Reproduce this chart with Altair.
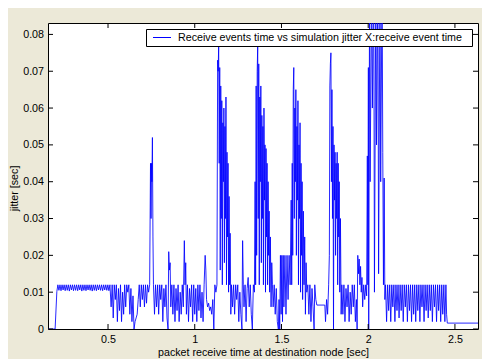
import altair as alt
import pandas as pd

# ---- data (time in ms, jitter in ms) ----
seg_start = [(154, 0), (195, 0), (205, 10.2), (211, 12), (217, 10.5), (223, 12), (229, 10.4), (235, 12),
             (241, 10.6), (247, 12), (253, 10.4), (259, 12), (265, 10.5), (271, 12), (277, 10.3), (283, 12),
             (289, 10.6), (295, 12), (301, 10.4), (307, 12), (313, 10.5), (319, 12), (325, 10.4), (331, 12),
             (337, 10.6), (343, 12), (349, 10.3), (355, 12), (361, 10.5), (367, 12), (373, 10.4), (379, 12),
             (385, 10.6), (391, 12), (397, 10.5), (403, 12), (409, 10.3), (415, 12), (421, 10.5), (427, 12),
             (433, 10.4), (439, 12), (445, 10.6), (451, 12), (457, 10.5), (463, 12), (469, 10.4), (475, 12),
             (481, 10.6), (487, 12), (493, 10.5), (499, 12), (505, 10.4), (511, 12)]
seg_a = [(518, 6), (524, 12), (530, 3), (536, 12), (542, 8), (548, 12), (554, 2), (560, 11), (566, 5), (572, 12),
         (578, 2), (584, 10), (590, 4), (596, 12), (602, 6), (608, 12), (614, 10), (620, 12), (626, 4), (632, 11),
         (638, 2), (644, 9), (650, 0), (656, 2), (662, 3), (668, 4), (674, 8), (680, 12), (686, 6), (692, 12),
         (698, 8), (704, 12), (710, 6), (716, 12), (722, 7), (728, 12), (734, 10), (740, 12), (745, 45), (748, 30),
         (751, 45), (753, 40), (756, 52), (759, 25), (762, 12)]
seg_b = [(768, 4), (774, 12), (780, 6), (786, 12), (792, 4), (798, 12), (804, 8), (810, 12), (816, 2), (822, 11),
         (828, 6), (834, 12), (840, 3), (846, 0), (850, 21), (854, 16), (858, 18), (862, 6), (868, 12), (874, 4),
         (880, 12), (886, 2), (892, 11), (898, 5), (904, 12), (910, 2), (916, 10), (922, 4), (928, 12), (934, 6),
         (940, 24), (944, 12), (948, 18), (952, 4), (958, 12), (964, 2), (970, 11), (976, 6), (982, 12), (988, 2),
         (994, 12), (1000, 4), (1006, 11), (1012, 2), (1018, 12), (1024, 5), (1030, 12), (1036, 3), (1042, 10),
         (1048, 2), (1054, 12), (1060, 20), (1064, 16), (1068, 8), (1074, 6), (1080, 7), (1086, 5), (1092, 6),
         (1098, 4), (1104, 8), (1110, 0), (1116, 12), (1122, 10)]
burst_1 = [(1128, 12), (1132, 73), (1135, 70), (1138, 77), (1141, 45), (1144, 71), (1147, 16), (1150, 66),
           (1153, 30), (1156, 62), (1159, 12), (1162, 56), (1165, 40), (1168, 60), (1171, 18), (1174, 55),
           (1177, 30), (1180, 63), (1183, 12), (1186, 48), (1189, 25), (1192, 45), (1195, 10), (1198, 36),
           (1201, 12), (1204, 26), (1208, 4), (1212, 12)]
seg_c = [(1218, 6), (1224, 12), (1230, 4), (1236, 12), (1242, 8), (1248, 12), (1254, 2), (1260, 10), (1266, 4),
         (1272, 0), (1276, 24), (1280, 12), (1284, 6), (1290, 12), (1296, 2), (1302, 11), (1308, 14), (1314, 6),
         (1320, 12), (1326, 4), (1332, 0), (1338, 12), (1344, 10)]
burst_2 = [(1348, 40), (1351, 12), (1354, 66), (1357, 20), (1360, 70), (1363, 77), (1366, 30), (1369, 72),
           (1372, 12), (1375, 63), (1378, 40), (1381, 66), (1384, 18), (1387, 58), (1390, 30), (1393, 55),
           (1396, 12), (1399, 60), (1402, 35), (1405, 50), (1408, 10), (1411, 49), (1414, 25), (1417, 45),
           (1420, 12), (1423, 40), (1426, 20), (1429, 32), (1432, 10), (1436, 25), (1440, 6), (1444, 18), (1448, 12)]
seg_d = [(1452, 6), (1458, 12), (1464, 4), (1470, 11), (1476, 2), (1482, 0), (1486, 8), (1490, 0), (1494, 20),
         (1498, 4), (1502, 20), (1506, 2), (1510, 20), (1514, 6), (1520, 20), (1526, 4), (1532, 20), (1538, 8),
         (1544, 20), (1550, 12)]
burst_3 = [(1556, 35), (1559, 12), (1562, 45), (1565, 20), (1568, 65), (1571, 71), (1574, 30), (1577, 60),
           (1580, 40), (1583, 65), (1586, 20), (1589, 55), (1592, 35), (1595, 62), (1598, 12), (1601, 50),
           (1604, 30), (1607, 56), (1610, 10), (1613, 45), (1616, 20), (1619, 40), (1622, 8), (1626, 32),
           (1630, 12), (1634, 25), (1638, 4), (1642, 18), (1646, 10)]
seg_e = [(1652, 12), (1658, 4), (1664, 12), (1670, 2), (1676, 11), (1682, 6), (1688, 0), (1692, 12), (1698, 8),
         (1704, 6.5), (1750, 6.5), (1754, 2), (1760, 8), (1766, 4), (1772, 12)]
burst_4 = [(1776, 20), (1779, 66), (1782, 72), (1785, 75), (1788, 40), (1791, 65), (1794, 30), (1797, 55),
           (1800, 0), (1803, 50), (1806, 35), (1809, 48), (1812, 20), (1815, 45), (1818, 30), (1821, 48),
           (1824, 12), (1827, 45), (1830, 25), (1833, 40), (1836, 10), (1840, 30), (1844, 4), (1848, 12)]
seg_f = [(1854, 4), (1860, 12), (1866, 2), (1872, 11), (1878, 6), (1884, 12), (1890, 2), (1896, 10), (1902, 4),
         (1908, 12), (1914, 6), (1920, 12), (1926, 2), (1932, 8), (1936, 0), (1940, 20), (1944, 15), (1948, 19),
         (1952, 12), (1956, 17), (1960, 10), (1964, 14), (1968, 6), (1974, 12), (1980, 8), (1986, 12), (1991, 9)]
burst_5 = [(1995, 47), (1998, 12), (2001, 71), (2003, 0), (2008, 95), (2011, 40), (2020, 95), (2024, 60),
           (2032, 95), (2036, 10), (2044, 95), (2048, 50), (2056, 95), (2060, 15), (2068, 95), (2072, 40),
           (2080, 95), (2084, 48), (2088, 12), (2092, 41), (2096, 8), (2100, 12)]
seg_end = [(2106, 2), (2112, 12), (2118, 5), (2124, 12), (2130, 2), (2136, 12), (2142, 6), (2148, 12), (2154, 2),
           (2160, 12), (2166, 5), (2172, 12), (2178, 3), (2184, 12), (2190, 5), (2196, 12), (2202, 2), (2208, 12),
           (2214, 6), (2220, 12), (2226, 2), (2232, 12), (2238, 5), (2244, 12), (2250, 2), (2256, 12), (2262, 4),
           (2268, 12), (2274, 2), (2280, 12), (2286, 5), (2292, 12), (2298, 2), (2304, 12), (2310, 6), (2316, 12),
           (2322, 2), (2328, 12), (2334, 5), (2340, 12), (2346, 3), (2352, 12), (2358, 5), (2364, 12), (2370, 2),
           (2376, 12), (2382, 6), (2388, 12), (2394, 2), (2400, 12), (2406, 5), (2412, 12), (2418, 2), (2424, 12),
           (2430, 4), (2436, 12), (2442, 2), (2448, 12), (2452, 4), (2456, 1.6), (2633, 1.6)]

x_ticks = [0.5, 1, 1.5, 2, 2.5]
y_ticks = [0, 0.01, 0.02, 0.03, 0.04, 0.05, 0.06, 0.07, 0.08]
legend_label = "Receive events time vs simulation jitter X:receive event time"

segments = [seg_start, seg_a, seg_b, burst_1, seg_c, burst_2, seg_d, burst_3, seg_e, burst_4, seg_f, burst_5, seg_end]
rows = [p for s in segments for p in s]
df = pd.DataFrame(rows, columns=["t_ms", "j_ms"])
df["t"] = df["t_ms"] / 1000.0
df["j"] = df["j_ms"] / 1000.0

W, H = 430, 306
FONT = "Liberation Sans"
FS = 10.7
BLUE = "#0000ff"

xscale = alt.Scale(domain=[0.154, 2.633], nice=False, zero=False)
yscale = alt.Scale(domain=[0, 0.0831], nice=False, zero=False)
xaxis = alt.Axis(values=x_ticks, format="~g", title="packet receive time at destination node [sec]",
                 labelPadding=5, titleY=18.5, titleBaseline="top")
yaxis = alt.Axis(values=y_ticks, format="~g", title="jitter [sec]", labelPadding=4.5,
                 titleX=-34, titleY=165, titleBaseline="middle", titleAlign="center")

line = alt.Chart(df).mark_line(color=BLUE, strokeWidth=0.85, clip=True).encode(
    x=alt.X("t:Q", scale=xscale, axis=xaxis),
    y=alt.Y("j:Q", scale=yscale, axis=yaxis),
)

xt = pd.DataFrame({"t": x_ticks})
yt = pd.DataFrame({"j": y_ticks})
x_bot = alt.Chart(xt).mark_rule(color="black", strokeWidth=1).encode(
    x=alt.X("t:Q", scale=xscale, axis=xaxis), y=alt.value(H - 5), y2=alt.value(H))
x_top = alt.Chart(xt).mark_rule(color="black", strokeWidth=1).encode(
    x=alt.X("t:Q", scale=xscale, axis=xaxis), y=alt.value(0), y2=alt.value(5))
y_left = alt.Chart(yt).mark_rule(color="black", strokeWidth=1).encode(
    y=alt.Y("j:Q", scale=yscale, axis=yaxis), x=alt.value(0), x2=alt.value(5))
y_right = alt.Chart(yt).mark_rule(color="black", strokeWidth=1).encode(
    y=alt.Y("j:Q", scale=yscale, axis=yaxis), x=alt.value(W - 5), x2=alt.value(W))

one = pd.DataFrame({"k": [0]})
leg_box = alt.Chart(one).mark_rect(fill="white", stroke="black", strokeWidth=1).encode(
    x=alt.value(98.5), x2=alt.value(424.5), y=alt.value(6.5), y2=alt.value(23.5))
leg_line = alt.Chart(one).mark_rule(color=BLUE, strokeWidth=1).encode(
    x=alt.value(105), x2=alt.value(123), y=alt.value(14.5))
leg_text = alt.Chart(one).mark_text(align="left", baseline="middle", font=FONT, fontSize=FS, color="black").encode(
    x=alt.value(130), y=alt.value(15), text=alt.value(legend_label))

chart = alt.layer(line, x_bot, x_top, y_left, y_right, leg_box, leg_line, leg_text).properties(
    width=W, height=H,
    padding={"left": 40, "top": 15, "right": 4, "bottom": 30},
    autosize=alt.AutoSizeParams(type="none"),
    background="#ece9d8",
).configure_view(stroke="black", strokeWidth=1, fill="white").configure_axis(
    grid=False, domain=False, ticks=False, tickSize=0,
    labelFont=FONT, labelFontSize=FS, labelColor="black",
    titleFont=FONT, titleFontSize=FS, titleColor="black", titleFontWeight="normal",
)

chart.save("out.html", embed_options={"renderer": "svg", "actions": False})
